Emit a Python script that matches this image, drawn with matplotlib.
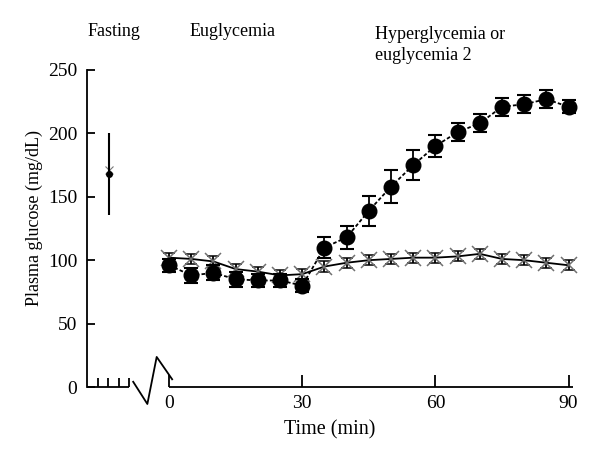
import matplotlib
matplotlib.use("Agg")
import matplotlib.pyplot as plt

plt.rcParams['font.family'] = ['Liberation Serif', 'DejaVu Serif']

# data: plasma glucose (mg/dL) vs time (min)
time = [0, 5, 10, 15, 20, 25, 30, 35, 40, 45, 50, 55, 60, 65, 70, 75, 80, 85, 90]
hyper = [96, 88, 90, 85, 84, 84, 80, 110, 118, 139, 158, 175, 190, 201, 208, 221, 223, 227, 221]
hyper_err = [5, 6, 6, 6, 5, 5, 5, 8, 9, 12, 13, 12, 9, 7, 7, 7, 7, 7, 5]
eugly = [102, 101, 99, 93, 91, 88, 89, 95, 98, 100, 101, 102, 102, 103, 105, 101, 100, 98, 96]
eugly_err = [4, 4, 4, 4, 4, 4, 4, 4, 4, 4, 4, 4, 4, 4, 4, 4, 4, 4, 4]
fasting_x = -13.5
fasting_mean = 168
fasting_err = 32

fig = plt.figure(figsize=(6, 4.66), dpi=100)
ax = fig.add_axes([87 / 600, 79 / 466, 486 / 600, 317 / 466])

# euglycemia-2 arm: crosses, solid line
ax.errorbar(time, eugly, yerr=eugly_err, fmt='-', color='black', lw=1.3,
            ecolor='black', elinewidth=1.3, capsize=4, capthick=1.5,
            marker='x', mfc='#707070', mec='#707070', ms=11, mew=1.1,
            clip_on=False, zorder=3)
# hyperglycemia arm: filled circles, dashed line
ax.errorbar(time, hyper, yerr=hyper_err, fmt='o', color='black', ls=(0, (2, 1.2)),
            lw=1.3, ecolor='black', elinewidth=1.3, capsize=5, capthick=1.5,
            ms=10.5, clip_on=False, zorder=4)
# fasting value
ax.errorbar([fasting_x], [fasting_mean], yerr=[fasting_err], fmt='o', color='black',
            ms=4, elinewidth=1.5, capsize=0, clip_on=False, zorder=4)
ax.plot([fasting_x], [fasting_mean + 3], marker='x', color='#777777', ms=6, mew=0.8)

ax.set_xlim(-18.5, 91)
ax.set_ylim(0, 250)
ax.set_yticks([0, 50, 100, 150, 200, 250])
ax.set_xticks([0, 30, 60, 90])
ax.tick_params(direction='in', length=6, width=1.3, labelsize=14, pad=7)
ax.tick_params(axis='x', length=8.5, pad=6)
for s in ['top', 'right', 'bottom']:
    ax.spines[s].set_visible(False)
ax.spines['left'].set_linewidth(1.3)

# broken x axis drawn by hand
kw = dict(color='black', lw=1.3, clip_on=False, solid_capstyle='butt')
ax.plot([-18.5, -9.0], [0, 0], **kw)
for tx in [-16.1, -13.7, -11.3, -9.0]:
    ax.plot([tx, tx], [0, 7], **kw)
ax.plot([-8.2, -4.9, -2.8, 0.8], [4.7, -13.4, 23.7, 5.5], **kw)
ax.plot([0, 91], [0, 0], **kw)

ax.set_xlabel('Time (min)', fontsize=14.5, labelpad=6)
ax.set_ylabel('Plasma glucose (mg/dL)', fontsize=13)
ax.yaxis.set_label_coords(-0.09, 0.533)

fig.text(88 / 600, 1 - 32 / 466, 'Fasting', fontsize=13, va='center', ha='left')
fig.text(190 / 600, 1 - 32 / 466, 'Euglycemia', fontsize=13, va='center', ha='left')
fig.text(375 / 600, 1 - 45 / 466, 'Hyperglycemia or\neuglycemia 2', fontsize=13,
         va='center', ha='left', linespacing=1.3)

fig.savefig('out.png', dpi=100)
